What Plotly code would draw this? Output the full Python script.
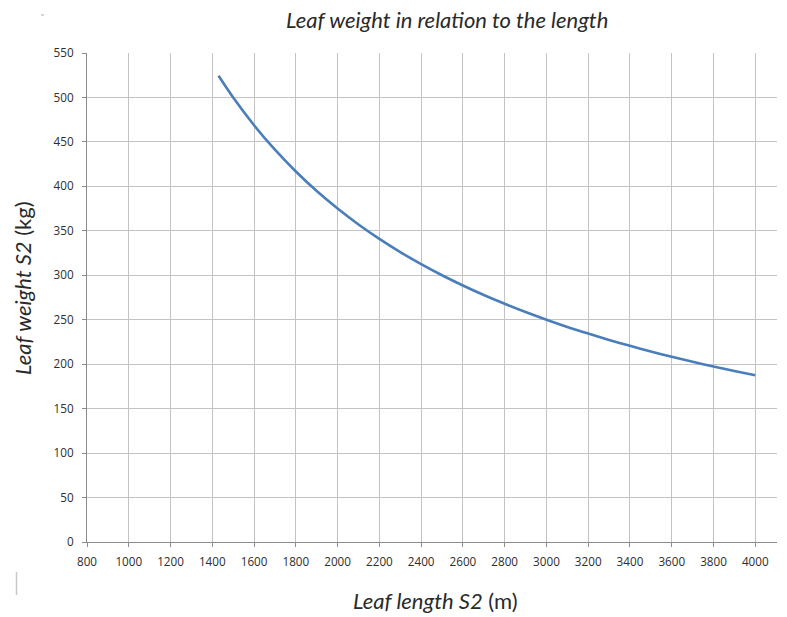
import plotly.graph_objects as go

# Data
leaf_length = [1430, 1500, 1600, 1700, 1800, 1900, 2000, 2100, 2200, 2300, 2400, 2500,
               2600, 2700, 2800, 2900, 3000, 3100, 3200, 3300, 3400, 3500, 3600, 3700,
               3800, 3900, 4000]
leaf_weight = [524.5, 500.0, 468.8, 441.2, 416.7, 394.7, 375.0, 357.1, 340.9, 326.1, 312.5, 300.0,
               288.5, 277.8, 267.9, 258.6, 250.0, 241.9, 234.4, 227.3, 220.6, 214.3, 208.3, 202.7,
               197.4, 192.3, 187.5]

x_ticks = list(range(800, 4001, 200))
y_ticks = list(range(0, 551, 50))

title_text = "<i>Leaf weight in relation to the length</i>"
x_title = "<i>Leaf length S2</i> (m)"
y_title = "<i>Leaf weight S2</i> (kg)"

W, H = 787, 617
L, R, T, B = 87, 10, 53, 75
pw, ph = W - L - R, H - T - B


def px(x):
    return (x - L) / pw


def py(y):
    return (H - B - y) / ph


fig = go.Figure()
fig.add_trace(go.Scatter(
    x=leaf_length, y=leaf_weight, mode="lines",
    line=dict(color="#4a7ebb", width=2.6, shape="spline", smoothing=0.8),
    showlegend=False, hoverinfo="x+y",
))

axis_common = dict(
    showgrid=True, gridcolor="#c3c3c3", gridwidth=1,
    showline=True, linecolor="#8c8c8c", linewidth=1,
    ticks="outside", ticklen=4, tickcolor="#8c8c8c",
    tickfont=dict(family="Open Sans, Liberation Sans, sans-serif", size=11.7, color="#2e2e2e"),
    zeroline=False, fixedrange=True,
)

fig.update_xaxes(range=[800, 4104], tickvals=x_ticks, ticktext=[str(v) for v in x_ticks],
                 ticklabelstandoff=5, **axis_common)
fig.update_yaxes(range=[0, 550], tickvals=y_ticks, ticktext=[str(v) for v in y_ticks],
                 ticklabelstandoff=6, **axis_common)

title_font = dict(family="Lato, Noto Sans, sans-serif", size=22, color="#2a2a2a")

fig.add_annotation(text=title_text, x=px(447), y=py(20), xref="paper", yref="paper",
                   showarrow=False, font=title_font, xanchor="center", yanchor="middle")
fig.add_annotation(text=x_title, x=px(435), y=py(600), xref="paper", yref="paper",
                   showarrow=False, font=title_font, xanchor="center", yanchor="middle")
fig.add_annotation(text=y_title, x=px(22), y=py(288), xref="paper", yref="paper",
                   showarrow=False, font=title_font, xanchor="center", yanchor="middle",
                   textangle=-90)

# small stray marks in the reference
fig.add_shape(type="line", xref="paper", yref="paper", x0=px(16.5), x1=px(16.5),
              y0=py(572), y1=py(595), line=dict(color="#c8c8c8", width=1.5))
fig.add_shape(type="line", xref="paper", yref="paper", x0=px(41), x1=px(44),
              y0=py(15), y1=py(15), line=dict(color="#b0b0b0", width=1))

fig.update_layout(
    width=W, height=H,
    margin=dict(l=L, r=R, t=T, b=B),
    paper_bgcolor="white", plot_bgcolor="white",
    showlegend=False,
)

fig.write_html("out.html", config={"displayModeBar": False})

# remove the default body margin so the figure sits at the window's top-left corner
with open("out.html", "r", encoding="utf-8") as f:
    html = f.read()
html = html.replace("<head>", "<head><style>html,body{margin:0;padding:0;overflow:hidden;}</style>", 1)
with open("out.html", "w", encoding="utf-8") as f:
    f.write(html)
